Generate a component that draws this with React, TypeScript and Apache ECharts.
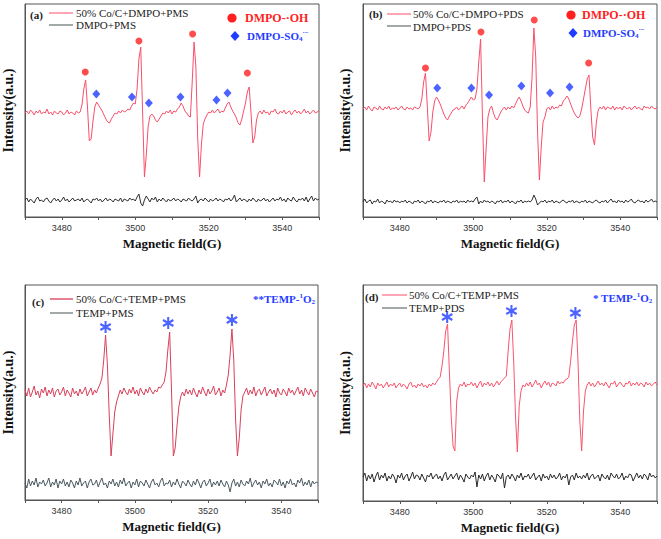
import React, { useEffect, useRef } from "react";
import * as echarts from "echarts";

// Field sampling (G): 3470 .. 3550, step 0.5
const FIELD_START = 3470;
const FIELD_STEP = 0.5;
const X_TICK_LABELS = ["3480", "3500", "3520", "3540"];

// ---- Panel (a) ----
const RED_A = [
  104,106,103,107,105,102,106,104,107,103,
  105,104,108,103,105,102,106,104,103,106,
  105,102,104,107,103,105,104,102,106,104,
  105,112,128,137,110,76,78,96,110,115,
  112,109,106,102,98,95,94,98,101,104,
  103,106,104,107,105,106,108,107,111,114,
  113,128,158,170,105,40,62,90,101,103,
  101,97,95,98,101,104,103,106,104,107,
  103,106,105,108,110,114,111,106,104,101,
  100,135,175,150,78,40,72,93,98,102,
  105,104,107,104,106,108,104,106,105,109,
  113,115,110,106,103,99,94,92,98,106,
  114,125,130,104,74,80,97,104,106,103,
  107,104,105,102,106,105,108,104,103,106,
  104,107,103,105,106,102,105,107,104,106,
  103,105,108,104,106,103,105,107,104,105,
  106,
];
const BLACK_A = [
  17,19,15,18,16,14,18,20,16,17,
  15,18,19,16,14,17,19,16,18,15,
  17,20,16,18,15,17,19,16,17,18,
  16,19,15,17,18,16,14,18,17,19,
  16,18,15,17,19,16,18,17,15,18,
  17,16,19,15,18,17,16,19,17,18,
  16,20,23,14,11,17,21,18,15,19,
  17,20,15,18,16,19,17,15,18,16,
  17,19,16,18,17,15,18,17,16,19,
  17,16,18,21,14,17,18,16,19,17,
  15,18,16,17,19,16,18,17,15,18,
  17,19,16,18,22,15,17,19,16,18,
  17,15,18,16,19,17,15,18,16,17,
  19,16,18,15,17,19,16,18,17,20,
  16,18,15,19,17,16,20,17,15,18,
  17,19,16,20,15,18,21,16,19,17,
  18,
];
const OH_A = [[3486.4, 145], [3501.0, 176], [3515.6, 183], [3530.5, 144]];
const SO4_A = [[3489.4, 123], [3499.1, 120], [3503.7, 114], [3512.3, 120], [3522.1, 117], [3525.1, 124]];

// ---- Panel (b) ----
const RED_B = [
  108,110,107,111,108,106,110,109,107,111,
  108,107,110,108,111,107,109,108,110,107,
  109,111,108,107,110,108,109,107,110,109,
  108,110,118,135,144,110,76,85,105,116,
  120,117,113,108,103,99,97,101,104,107,
  108,110,107,109,111,108,112,114,117,120,
  117,118,128,155,178,100,35,68,100,108,
  111,104,99,97,101,105,108,110,107,110,
  108,111,109,113,117,120,116,111,107,105,
  104,110,140,189,160,85,37,70,95,100,
  108,110,107,111,108,110,109,112,111,116,
  118,121,118,113,108,104,101,99,101,108,
  118,128,138,142,108,80,72,95,107,110,
  108,111,107,110,109,108,111,107,110,108,
  110,107,111,109,108,110,107,109,111,108,
  110,108,107,111,109,110,108,111,109,108,
  110,
];
const BLACK_B = [
  15,18,14,16,17,13,16,15,18,14,
  16,15,13,17,15,16,14,17,15,16,
  14,16,15,17,14,16,15,13,16,15,
  17,14,16,15,13,16,15,17,14,16,
  15,14,16,15,17,14,16,15,14,16,
  15,17,14,16,15,16,14,17,15,16,
  15,18,20,13,16,14,17,15,16,14,
  16,15,13,16,15,17,14,16,15,17,
  14,16,15,13,16,15,17,14,16,15,
  16,15,17,22,18,12,14,16,15,17,
  14,16,15,17,14,16,15,14,16,17,
  15,14,16,15,17,14,16,15,14,16,
  15,17,14,16,15,14,16,17,15,14,
  16,15,17,14,16,18,15,16,14,17,
  15,16,14,17,15,16,18,15,14,16,
  17,15,16,14,17,15,16,18,15,16,
  15,
];
const OH_B = [[3487.0, 149], [3502.1, 185], [3516.6, 197], [3531.4, 154]];
const SO4_B = [[3490.2, 129], [3499.5, 129], [3504.3, 122], [3513.1, 131], [3520.9, 124], [3526.2, 130]];

// ---- Panel (c) ----
const RED_C = [
  110,104,112,103,108,114,105,109,102,111,
  107,113,104,110,106,112,103,109,111,105,
  108,113,104,110,107,103,112,106,109,104,
  111,106,109,113,104,108,112,105,110,107,
  112,116,122,140,165,135,85,44,66,88,
  98,104,110,106,112,108,105,111,107,113,
  106,110,104,112,108,105,111,107,113,109,
  106,110,108,113,112,115,118,128,150,168,
  110,44,52,74,93,103,108,104,111,106,
  110,105,112,107,103,110,106,113,108,104,
  111,106,109,114,105,108,112,104,110,107,
  115,125,145,171,140,80,44,62,90,104,
  108,112,105,110,106,113,104,109,111,105,
  109,113,104,108,111,106,110,103,112,107,
  105,111,108,104,112,107,110,105,109,113,
  106,110,104,112,108,105,111,107,103,109,
  108,
];
const BLACK_C = [
  17,12,21,14,19,15,22,13,18,16,
  20,14,17,22,13,18,15,21,12,19,
  16,21,14,18,13,20,17,12,19,15,
  22,14,17,19,12,18,21,15,16,20,
  13,18,22,15,17,12,19,16,21,14,
  18,13,20,16,22,14,17,19,12,18,
  15,21,13,19,17,14,20,16,12,18,
  21,15,17,13,19,22,14,17,16,20,
  13,18,15,21,16,12,19,17,14,20,
  16,13,19,15,21,17,12,18,20,14,
  17,21,13,18,15,19,14,20,16,13,
  19,15,8,17,21,14,18,13,20,16,
  14,19,16,22,13,17,20,15,18,12,
  19,16,21,14,17,13,20,18,15,21,
  14,18,12,19,16,21,15,17,13,20,
  17,22,14,18,15,20,13,19,16,18,
  17,
];
const O2_C = [[3492.0, 173], [3509.1, 177], [3526.5, 180]];

// ---- Panel (d) ----
const RED_D = [
  115,118,113,117,114,119,116,112,118,115,
  117,113,116,119,114,117,115,118,113,116,
  118,114,117,115,112,117,119,114,116,113,
  117,115,118,114,116,113,117,115,118,116,
  119,122,124,135,150,170,177,130,85,55,
  50,100,113,117,115,119,114,117,116,119,
  115,118,113,117,120,114,118,116,119,115,
  118,114,117,120,116,119,121,123,125,150,
  172,181,140,85,49,95,110,116,114,118,
  115,119,114,117,121,116,118,113,117,120,
  116,119,114,118,117,115,120,117,119,118,
  121,122,124,140,160,176,181,140,80,50,
  90,110,116,119,115,118,114,117,120,116,
  118,115,119,116,113,118,117,120,114,117,
  119,116,114,118,117,120,115,118,116,119,
  115,118,117,114,119,116,118,115,117,119,
  116,
];
const BLACK_D = [
  24,28,20,26,22,27,19,25,29,21,
  26,23,28,20,25,22,27,24,18,26,
  23,28,21,25,27,20,24,29,22,26,
  25,21,27,23,19,26,24,28,22,25,
  27,22,25,20,26,29,21,24,27,22,
  25,28,21,26,23,19,27,24,22,26,
  24,29,14,26,22,27,20,25,28,21,
  26,23,19,27,25,22,28,13,24,26,
  22,27,24,20,26,23,28,21,25,24,
  27,22,25,28,21,24,26,20,27,23,
  25,21,27,23,26,22,24,28,21,25,
  23,27,16,24,26,21,28,23,25,22,
  26,23,28,21,25,27,22,24,26,20,
  27,24,22,26,21,28,25,23,27,22,
  24,28,21,25,23,27,26,20,24,28,
  23,26,22,27,25,21,28,24,26,23,
  25,
];
const O2_D = [[3492.9, 184], [3510.4, 190], [3527.8, 188]];

const SERIES_NAMES = {
  a: ["50% Co/C+DMPO+PMS", "DMPO+PMS"],
  b: ["50% Co/C+DMPO+PDS", "DMPO+PDS"],
  c: ["50% Co/C+TEMP+PMS", "TEMP+PMS"],
  d: ["50% Co/C+TEMP+PMS", "TEMP+PDS"],
};

const SERIF = "'Liberation Serif', 'Times New Roman', serif";
const SANS = "'Liberation Sans', Arial, sans-serif";
const RED_DOT = "#ff1f1f";
const BLUE = "#1f3cff";

function toPairs(arr: number[]) {
  return arr.map((v, i) => [FIELD_START + i * FIELD_STEP, v]);
}

function asteriskPath() {
  const L = 10, w = 1.7;
  const parts: string[] = [];
  [90, 30, -30].forEach((deg) => {
    const t = (deg * Math.PI) / 180;
    const c = Math.cos(t), s = Math.sin(t);
    const pts = [
      [L * c - w * s, L * s + w * c],
      [L * c + w * s, L * s - w * c],
      [-L * c + w * s, -L * s - w * c],
      [-L * c - w * s, -L * s + w * c],
    ];
    parts.push("M" + pts.map((p) => p[0].toFixed(2) + " " + p[1].toFixed(2)).join(" L") + " Z");
  });
  return "path://" + parts.join(" ");
}

const GRIDS = [
  { left: 25, top: 4, width: 294, height: 213 },
  { left: 363, top: 4, width: 294, height: 213 },
  { left: 24, top: 285, width: 294, height: 215 },
  { left: 363, top: 285, width: 294, height: 216 },
];
const Y_NAME_GAP = [10, 11, 10, 11];

export default function App() {
  const ref = useRef<HTMLDivElement>(null);
  useEffect(() => {
    if (!ref.current) return;
    const chart = echarts.init(ref.current, undefined, { renderer: "svg" });
    const AST = asteriskPath();

    const xAxis = GRIDS.map((_, i) => ({
      gridIndex: i,
      type: "value",
      min: 3470,
      max: 3550,
      interval: 10,
      name: "Magnetic field(G)",
      nameLocation: "middle",
      nameGap: 20,
      nameTextStyle: { fontFamily: SERIF, fontWeight: "bold", fontSize: 13, color: "#111" },
      axisLine: { show: true, lineStyle: { color: "#555", width: 1 } },
      axisTick: { show: true, inside: false, length: 3, lineStyle: { color: "#555" } },
      axisLabel: {
        show: true,
        margin: 6,
        fontSize: 9,
        fontFamily: SANS,
        color: "#333",
        formatter: (v: number) => (X_TICK_LABELS.includes(String(v)) ? String(v) : ""),
      },
      splitLine: { show: false },
    }));
    const yAxis = GRIDS.map((g, i) => ({
      gridIndex: i,
      type: "value",
      min: 0,
      max: g.height,
      name: "Intensity(a.u.)",
      nameLocation: "middle",
      nameGap: Y_NAME_GAP[i],
      nameTextStyle: { fontFamily: SERIF, fontWeight: "bold", fontSize: 14, color: "#111" },
      axisLine: { show: true, lineStyle: { color: "#555", width: 1 } },
      axisTick: { show: false },
      axisLabel: { show: false },
      splitLine: { show: false },
    }));

    const line = (idx: number, data: number[], color: string, name: string, z: number) => ({
      type: "line",
      name,
      xAxisIndex: idx,
      yAxisIndex: idx,
      data: toPairs(data),
      showSymbol: false,
      symbol: "none",
      lineStyle: { color, width: 1 },
      z,
    });
    const scatter = (idx: number, data: number[][], symbol: string, size: any, color: string, name: string) => ({
      type: "scatter",
      name,
      xAxisIndex: idx,
      yAxisIndex: idx,
      data,
      symbol,
      symbolSize: size,
      symbolKeepAspect: true,
      itemStyle: { color },
      z: 5,
    });

    const series = [
      line(0, BLACK_A, "#2e2e2e", SERIES_NAMES.a[1], 2),
      line(0, RED_A, "#f8506a", SERIES_NAMES.a[0], 3),
      scatter(0, OH_A, "circle", 7, RED_DOT, "DMPO-·OH"),
      scatter(0, SO4_A, "diamond", [8, 9], BLUE, "DMPO-SO4"),
      line(1, BLACK_B, "#2e2e2e", SERIES_NAMES.b[1], 2),
      line(1, RED_B, "#f8506a", SERIES_NAMES.b[0], 3),
      scatter(1, OH_B, "circle", 7, RED_DOT, "DMPO-·OH"),
      scatter(1, SO4_B, "diamond", [8, 9], BLUE, "DMPO-SO4"),
      line(2, BLACK_C, "#4b5a60", SERIES_NAMES.c[1], 2),
      line(2, RED_C, "#d8405c", SERIES_NAMES.c[0], 3),
      scatter(2, O2_C, AST, 12, BLUE, "TEMP-1O2"),
      line(3, BLACK_D, "#2a2a2a", SERIES_NAMES.d[1], 2),
      line(3, RED_D, "#f8566e", SERIES_NAMES.d[0], 3),
      scatter(3, O2_D, AST, 12, BLUE, "TEMP-1O2"),
    ];

    const txt = (x: number, y: number, text: string, extra: any = {}) => ({
      type: "text",
      x,
      y,
      style: {
        text,
        fontFamily: SERIF,
        fontSize: 11,
        fill: "#222",
        verticalAlign: "middle",
        align: "left",
        ...extra,
      },
      z: 10,
    });
    const seg = (x1: number, x2: number, y: number, color: string) => ({
      type: "line",
      shape: { x1, y1: y, x2, y2: y },
      style: { stroke: color, lineWidth: 1.6 },
      z: 10,
    });
    const dot = (x: number, y: number) => ({
      type: "circle",
      shape: { cx: x, cy: y, r: 4.6 },
      style: { fill: RED_DOT },
      z: 10,
    });
    const dia = (x: number, y: number) => ({
      type: "polygon",
      shape: { points: [[x, y - 5], [x + 4.5, y], [x, y + 5], [x - 4.5, y]] },
      style: { fill: BLUE },
      z: 10,
    });
    const richSO4 = {
      text: "{b|DMPO-SO}{s|4}{p|·−}",
      rich: {
        b: { fontFamily: SERIF, fontWeight: "bold", fontSize: 11, fill: BLUE, color: BLUE },
        s: { fontFamily: SERIF, fontWeight: "bold", fontSize: 7, fill: BLUE, color: BLUE, padding: [6, 0, 0, 0] },
        p: { fontFamily: SERIF, fontWeight: "bold", fontSize: 7, fill: BLUE, color: BLUE, padding: [0, 0, 6, 0] },
      },
    };
    const richO2 = (prefix: string) => ({
      text: "{b|" + prefix + "TEMP-}{p|1}{b|O}{s|2}",
      rich: {
        b: { fontFamily: SERIF, fontWeight: "bold", fontSize: 11, fill: BLUE, color: BLUE },
        s: { fontFamily: SERIF, fontWeight: "bold", fontSize: 7, fill: BLUE, color: BLUE, padding: [6, 0, 0, 0] },
        p: { fontFamily: SERIF, fontWeight: "bold", fontSize: 7, fill: BLUE, color: BLUE, padding: [0, 0, 6, 0] },
      },
    });
    const richText = (x: number, y: number, r: any) => ({
      type: "text",
      x,
      y,
      style: { ...r, verticalAlign: "middle", align: "left" },
      z: 10,
    });

    const PINK = "#ff8fa2";
    const GRAY = "#8c9294";
    const graphic = [
      // (a)
      txt(30, 15, "(a)", { fontWeight: "bold" }),
      seg(49, 73, 13, PINK),
      txt(76, 13, SERIES_NAMES.a[0]),
      seg(49, 73, 25, GRAY),
      txt(76, 25, SERIES_NAMES.a[1]),
      dot(232, 18),
      txt(245, 18, "DMPO-·OH", { fontWeight: "bold", fontSize: 12, fill: RED_DOT }),
      dia(235, 36),
      richText(247, 36, richSO4),
      // (b)
      txt(369, 14, "(b)", { fontWeight: "bold" }),
      seg(387, 411, 14, PINK),
      txt(413, 14, SERIES_NAMES.b[0]),
      seg(387, 411, 26, GRAY),
      txt(413, 27, SERIES_NAMES.b[1]),
      dot(571, 15),
      txt(582, 15, "DMPO-·OH", { fontWeight: "bold", fontSize: 12, fill: RED_DOT }),
      dia(573, 33),
      richText(583, 33, richSO4),
      // (c)
      txt(32, 302, "(c)", { fontWeight: "bold" }),
      seg(50, 73, 299, "#e0607a"),
      txt(76, 299, SERIES_NAMES.c[0]),
      seg(50, 73, 313, GRAY),
      txt(76, 313, SERIES_NAMES.c[1]),
      richText(253, 299, richO2("**")),
      // (d)
      txt(365, 297, "(d)", { fontWeight: "bold" }),
      seg(382, 407, 295, PINK),
      txt(409, 295, SERIES_NAMES.d[0]),
      seg(382, 407, 308, GRAY),
      txt(409, 308, SERIES_NAMES.d[1]),
      richText(593, 298, richO2("* ")),
    ];

    chart.setOption({
      animation: false,
      backgroundColor: "#ffffff",
      grid: GRIDS.map((g) => ({ ...g, show: true, borderColor: "#555", borderWidth: 1, backgroundColor: "transparent" })),
      xAxis,
      yAxis,
      series,
      graphic,
    });
    return () => chart.dispose();
  }, []);

  return (
    <div
      ref={ref}
      style={{ position: "absolute", left: 0, top: 0, width: 661, height: 539, background: "#fff" }}
    />
  );
}
